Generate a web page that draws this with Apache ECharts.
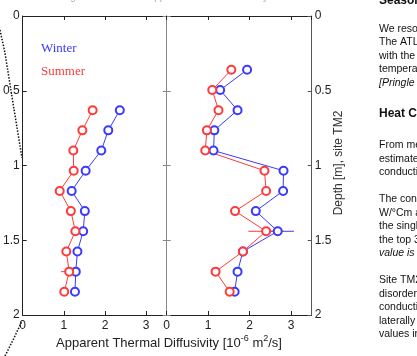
<!DOCTYPE html>
<html>
<head>
<meta charset="utf-8">
<script src="https://cdn.jsdelivr.net/npm/echarts@6/dist/echarts.min.js"></script>
<style>
html, body { margin: 0; padding: 0; background: #fff; }
#chart { width: 417px; height: 356px; }
</style>
</head>
<body>
<div id="chart"></div>
<script>
// depths [m] of the sensors
const depthLeft  = [0.63, 0.765, 0.9, 1.035, 1.17, 1.305, 1.44, 1.575, 1.71, 1.845]
const depthRight = [0.36, 0.495, 0.63, 0.765, 0.9, 1.035, 1.17, 1.305, 1.44, 1.575, 1.71, 1.845]

// apparent thermal diffusivity [1e-6 m2/s]
const winterLeft  = [2.36, 2.08, 1.91, 1.53, 1.19, 1.51, 1.47, 1.33, 1.29, 1.27]
const summerLeft  = [1.70, 1.45, 1.23, 1.24, 0.90, 1.17, 1.28, 1.06, 1.13, 1.01]
const winterRight = [1.94, 1.29, 1.71, 1.15, 1.13, 2.82, 2.81, 2.15, 2.68, 1.84, 1.71, 1.64]
const summerRight = [1.56, 1.10, 1.25, 0.97, 0.93, 2.36, 2.40, 1.65, 2.40, 1.84, 1.18, 1.52]

// half widths of the error bars
const winterLeftErr  = [0.07, 0.07, 0.07, 0.07, 0.07, 0.07, 0.07, 0.07, 0.07, 0.07]
const summerLeftErr  = [0.07, 0.07, 0.07, 0.07, 0.07, 0.07, 0.07, 0.07, 0.2, 0.07]
const winterRightErr = [0.07, 0.07, 0.07, 0.07, 0.07, 0.07, 0.07, 0.07, 0.39, 0.07, 0.07, 0.07]
const summerRightErr = [0.07, 0.07, 0.07, 0.07, 0.07, 0.07, 0.07, 0.1, 0.43, 0.07, 0.07, 0.07]

const BLUE = '#3a3aff', RED = '#ff3a3a'
const FONT = 'Liberation Sans, Arial, sans-serif'

// page text on the right, cut off by the crop
const pageText = [
  { t: 'Seasonal', y: 0.5, bold: true },
  { t: 'We resolved', y: 29 },
  { t: 'The ATL', y: 42.5 },
  { t: 'with the', y: 56 },
  { t: 'temperature', y: 69.5 },
  { t: '[Pringle et al.', y: 83, italic: true },
  { t: 'Heat Conductivity', y: 114, bold: true },
  { t: 'From measured', y: 145.5 },
  { t: 'estimated', y: 159 },
  { t: 'conductivity', y: 172.5 },
  { t: 'The conductivity', y: 199.5 },
  { t: 'W/°Cm and', y: 213 },
  { t: 'the single', y: 226.5 },
  { t: 'the top 30', y: 240 },
  { t: 'value is', y: 253.5, italic: true },
  { t: 'Site TM2', y: 280.5 },
  { t: 'disordered', y: 294 },
  { t: 'conductivity', y: 307.5 },
  { t: 'laterally', y: 321 },
  { t: 'values in', y: 334.5 },
]

const chart = echarts.init(document.getElementById('chart'), null, { renderer: 'canvas' })

const tickStyle = color => ({ show: true, inside: true, length: 4, lineStyle: { color, width: 1 } })
const labelStyle = { color: '#222', fontSize: 12, fontFamily: FONT }

function xAx(grid, pos, labels) {
  return {
    type: 'value', gridIndex: grid, position: pos, min: 0, max: 3.5, interval: 1,
    axisLine: { show: true, onZero: false, lineStyle: { color: '#222', width: 1 } },
    axisTick: tickStyle('#222'),
    axisLabel: labels ? { ...labelStyle, margin: 5, showMaxLabel: false } : { show: false },
    splitLine: { show: false },
  }
}
function yAx(grid, pos, labels, color) {
  return {
    type: 'value', gridIndex: grid, position: pos, inverse: true, min: 0, max: 2, interval: 0.5,
    axisLine: { show: true, onZero: false, lineStyle: { color, width: 1 } },
    axisTick: tickStyle(color),
    axisLabel: labels ? { ...labelStyle, margin: 3 } : { show: false },
    splitLine: { show: false },
  }
}

function lineSeries(name, vals, depths, color, ai) {
  return {
    type: 'line', name, xAxisIndex: ai, yAxisIndex: ai,
    data: vals.map((v, i) => [v, depths[i]]),
    symbol: 'emptyCircle', symbolSize: 8, z: 4,
    itemStyle: { color, borderWidth: 1 },
    lineStyle: { color, width: 1 },
  }
}
function errSeries(vals, errs, depths, color, ai) {
  return {
    type: 'custom', coordinateSystem: 'cartesian2d', xAxisIndex: ai, yAxisIndex: ai, silent: true, z: 3,
    data: vals.map((v, i) => [v - errs[i], v + errs[i], depths[i]]),
    encode: { x: [0, 1], y: 2 },
    renderItem: (params, api) => {
      const a = api.coord([api.value(0), api.value(2)])
      const b = api.coord([api.value(1), api.value(2)])
      return { type: 'line', shape: { x1: a[0], y1: a[1], x2: b[0], y2: b[1] }, style: { stroke: color, lineWidth: 1 } }
    },
  }
}

const option = {
  animation: false,
  grid: [
    { left: 22.7, top: 16, width: 144, height: 299 },
    { left: 166.7, top: 16, width: 145, height: 299 },
  ],
  xAxis: [xAx(0, 'bottom', true), xAx(0, 'top', false), xAx(1, 'bottom', true), xAx(1, 'top', false)],
  yAxis: [yAx(0, 'left', true, '#222'), yAx(0, 'right', false, '#888'), yAx(1, 'left', false, '#888'), yAx(1, 'right', true, '#555')],
  series: [
    errSeries(winterLeft, winterLeftErr, depthLeft, BLUE, 0),
    errSeries(summerLeft, summerLeftErr, depthLeft, RED, 0),
    errSeries(winterRight, winterRightErr, depthRight, BLUE, 2),
    errSeries(summerRight, summerRightErr, depthRight, RED, 2),
    lineSeries('Winter', winterLeft, depthLeft, BLUE, 0),
    lineSeries('Summer', summerLeft, depthLeft, RED, 0),
    lineSeries('Winter', winterRight, depthRight, BLUE, 2),
    lineSeries('Summer', summerRight, depthRight, RED, 2),
  ],
  graphic: [
    // legend words
    { type: 'text', left: 41, top: 42, style: { text: 'Winter', fill: BLUE, font: '13px "Liberation Serif", serif' } },
    { type: 'text', left: 41, top: 65, style: { text: 'Summer', fill: RED, font: '13px "Liberation Serif", serif' } },
    // axis titles
    {
      type: 'text', x: 169, y: 343,
      style: {
        text: 'Apparent Thermal Diffusivity [10{s|-6} m{s|2}/s]',
        fill: '#222', font: '13px ' + FONT, align: 'center', verticalAlign: 'middle',
        rich: { s: { fontSize: 9, verticalAlign: 'top', padding: [0, 0, 8, 0], fill: '#222', fontFamily: FONT } },
      },
    },
    {
      type: 'text', x: 339, y: 163, rotation: Math.PI / 2,
      style: { text: 'Depth [m], site TM2', fill: '#333', font: '12px ' + FONT, align: 'center', verticalAlign: 'middle' },
    },
    // cut-off caption above
    { type: 'text', x: 62, y: 2, style: { text: 'Figure 6. Seasonal apparent thermal diffusivity', fill: '#aaa', font: '10px ' + FONT, verticalAlign: 'bottom' } },
    // dotted zoom guides
    { type: 'polyline', shape: { points: [[0, 30], [5, 53], [12, 97], [22, 158]] }, style: { stroke: '#111', lineWidth: 1.5, lineDash: [1.5, 1.5], fill: null } },
    { type: 'polyline', shape: { points: [[5, 356], [14, 338], [22, 321]] }, style: { stroke: '#111', lineWidth: 1.5, lineDash: [1.5, 1.5], fill: null } },
    // page text
    ...pageText.map(l => ({
      type: 'text', x: 379, y: l.y,
      style: {
        text: l.t, fill: '#111', verticalAlign: 'middle',
        font: (l.italic ? 'italic ' : '') + (l.bold ? 'bold 12px ' : '10.5px ') + FONT,
      },
    })),
  ],
}

chart.setOption(option)
</script>
</body>
</html>
